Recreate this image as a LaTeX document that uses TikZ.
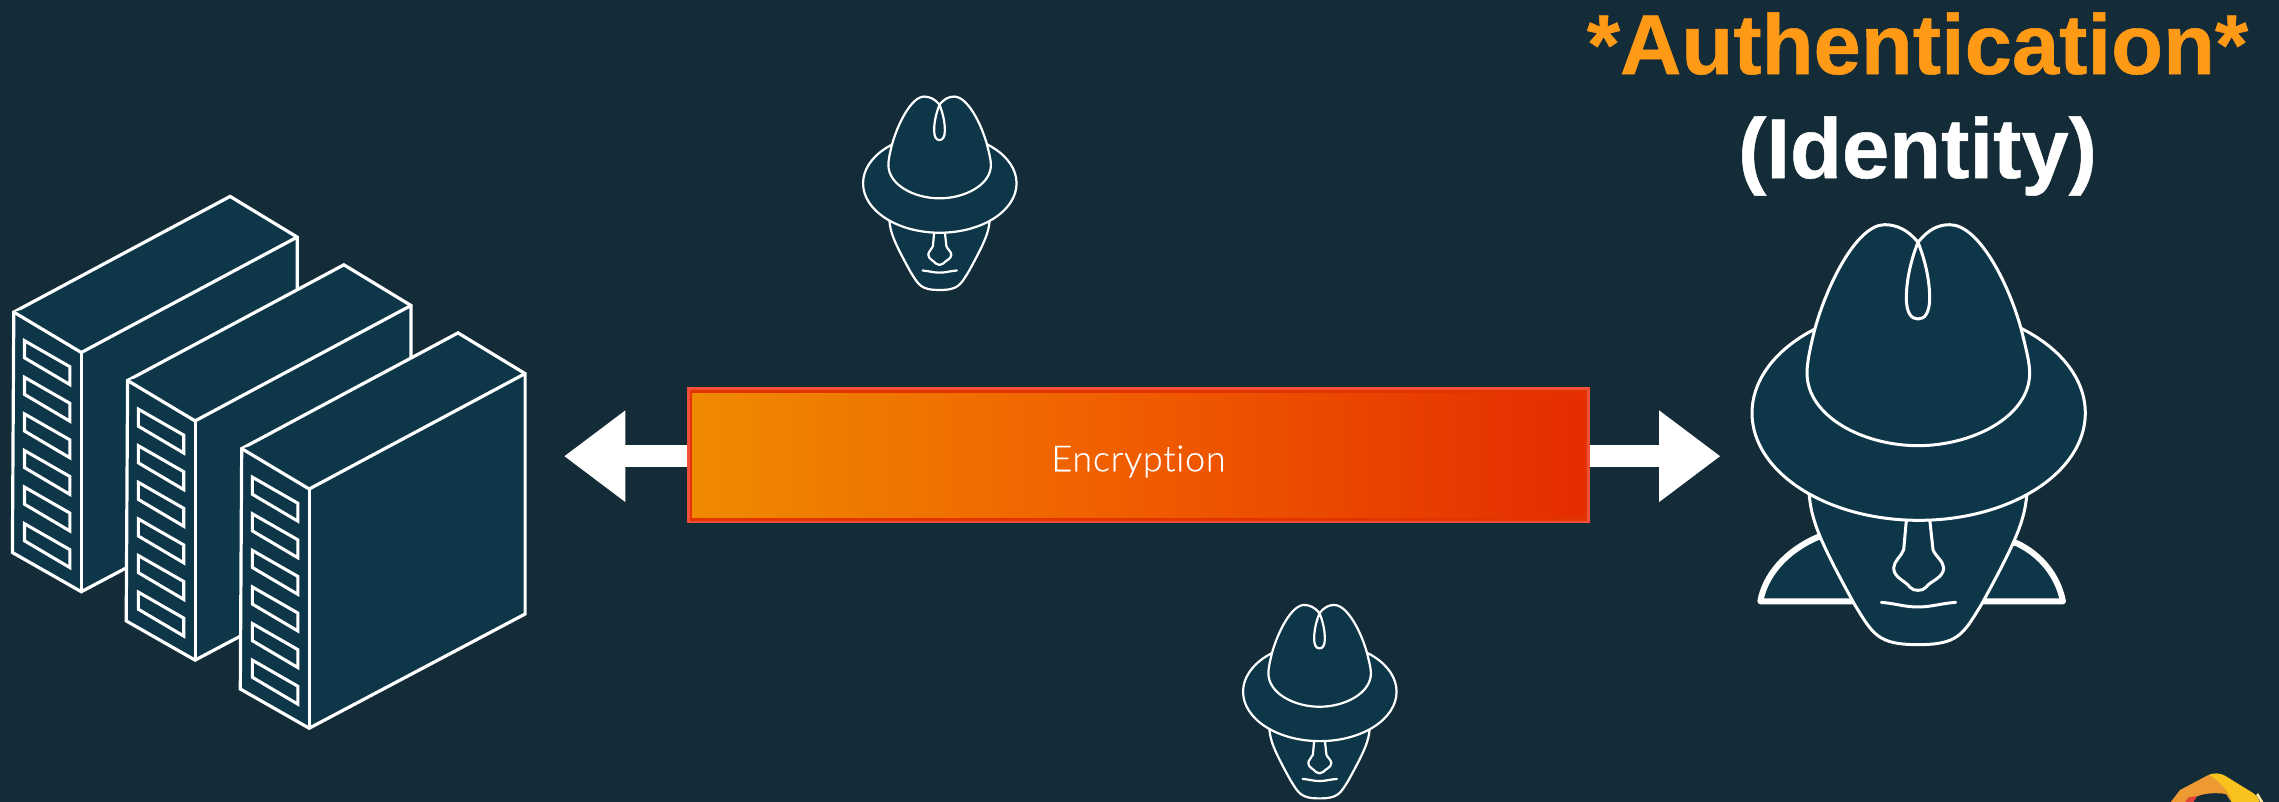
\documentclass[tikz,border=0pt]{standalone}
\usepackage{fontspec}
\setmainfont[BoldFeatures={FakeBold=0.6}]{Liberation Sans}
\newfontfamily\enctextfont[Ligatures=CommonOff,LetterSpace=2,FakeBold=0.35]{Lato Light}
\usetikzlibrary{arrows.meta}
\definecolor{bgdark}{HTML}{142B38}
\definecolor{figfill}{HTML}{0D3648}
\definecolor{titleorange}{HTML}{FF9A17}
\definecolor{encstart}{HTML}{EF8A00}
\definecolor{encmid}{HTML}{F05C00}
\definecolor{encend}{HTML}{E42C00}
\definecolor{encdark}{HTML}{E23400}
\definecolor{enclight}{HTML}{F3503A}
\definecolor{logoorange}{HTML}{EE9A33}
\definecolor{logoyellow}{HTML}{F9C21E}
\definecolor{logored}{HTML}{E0453A}
\definecolor{logocream}{HTML}{FBE3A0}
\tikzset{
  figshape/.style={fill=figfill,draw=white,line join=round,line cap=round},
  srv/.style={figshape,line width=3.2pt,line join=miter},
  slot/.style={draw=white,line width=3.1pt,line join=miter,fill=none},
  shaft/.style={draw=white,line width=22.3pt,-{Triangle[length=61.3pt,width=87.3pt,fill=white]}},
  titletext/.style={anchor=base,inner sep=0pt,font=\fontsize{85}{90}\selectfont\bfseries},
  shoulderpart/.pic={
    \path[figshape] (-300,372) .. controls (-400,415) and (-460,490) .. (-473,565)
      -- (435,565) .. controls (420,490) and (370,425) .. (295,390) -- cycle;
  },
  hatfig/.pic={
    \path[figshape] (-327,240) .. controls (-320,320) and (-300,375) .. (-190,575)
      .. controls (-135,665) and (-120,695) .. (0,695)
      .. controls (120,695) and (135,665) .. (190,575)
      .. controls (300,375) and (320,320) .. (327,240) -- cycle;
    \path[draw=white,line join=round,line cap=round] (-33,300) -- (-43,410)
      .. controls (-50,430) and (-73,445) .. (-73,465)
      .. controls (-73,495) and (-35,505) .. (-25,522)
      .. controls (-18,530) and (-10,532) .. (0,532)
      .. controls (10,532) and (18,530) .. (25,522)
      .. controls (35,505) and (77,495) .. (77,465)
      .. controls (77,445) and (52,430) .. (45,410) -- (33,300);
    \path[draw=white,line cap=round] (-110,568) .. controls (-65,572) and (-40,582) .. (0,582)
      .. controls (40,582) and (65,572) .. (113,568);
    \path[figshape] (2,0) ellipse [x radius=500,y radius=322];
    \path[figshape] (0,-512) .. controls (-30,-550) and (-65,-565) .. (-100,-565)
      .. controls (-185,-565) and (-275,-380) .. (-310,-250)
      .. controls (-325,-190) and (-333,-150) .. (-333,-120)
      .. controls (-333,10) and (-165,98) .. (0,98)
      .. controls (165,98) and (335,10) .. (335,-120)
      .. controls (335,-150) and (325,-190) .. (310,-250)
      .. controls (275,-380) and (185,-565) .. (95,-565)
      .. controls (60,-565) and (30,-550) .. (0,-512) -- cycle;
    \path[draw=white,line join=round] (0,-512) .. controls (-25,-450) and (-35,-390) .. (-35,-345)
      .. controls (-35,-300) and (-20,-282) .. (0,-282)
      .. controls (20,-282) and (35,-300) .. (35,-345)
      .. controls (35,-390) and (25,-450) .. (0,-512);
  },
  serverbox/.pic={
    \path[srv] (0,0) -- (216.3,-115.7) -- (283.4,-75) -- (283.4,165.4) -- (67.5,279.6) -- (-1.4,240.4) -- cycle;
    \path[srv] (0,0) -- (67.5,40.4) -- (283.4,-75);
    \path[srv,fill=none] (67.5,40.4) -- (67.5,279.6);
    \foreach \k in {0,...,5}{
      \path[slot] (10.7,{28.6+36.6*\k}) -- (56.1,{54.6+36.6*\k}) -- (56.1,{72.5+36.6*\k}) -- (10.7,{45.7+36.6*\k}) -- cycle;
    }
  }
}
\begin{document}
\begin{tikzpicture}[x=1pt,y=-1pt]
\useasboundingbox (0,0) rectangle (2279,801);
\fill[bgdark] (-6,-6) rectangle (2285,807);

% servers
\pic at (13.8,312.1) {serverbox};
\pic at (127.6,380.5) {serverbox};
\pic at (241.7,448.6) {serverbox};

% encryption bar and arrows
\node[minimum width=895pt,minimum height=128pt,inner sep=0pt,outer sep=0pt,
      left color=encstart,right color=encend,middle color=encmid,
      draw=encdark,line width=2.8pt,text=white,
      text height=32pt,text depth=0pt,
      font=\enctextfont\fontsize{36}{38}\selectfont]
      (enc) at (1138.5,455.3) {Encryption};
\coordinate (lefttip) at (564,456.2);
\coordinate (righttip) at (1720.5,456.2);
\coordinate (leftstart) at ([xshift=-4pt]enc.west |- lefttip);
\coordinate (rightstart) at ([xshift=4pt]enc.east |- righttip);
\draw[shaft] (leftstart) -- (lefttip);
\draw[shaft] (rightstart) -- (righttip);
\draw[enclight,line width=2.6pt] ([shift={(-2.7pt,2.7pt)}]enc.north west) rectangle ([shift={(2.7pt,-2.7pt)}]enc.south east);

% hats
\pic[scale=0.3333,line width=6pt] at (1918,413) {shoulderpart};
\pic[scale=0.3333,line width=3pt] at (1918,413) {hatfig};
\pic[scale=0.1535,line width=2.2pt] at (939.5,183.3) {hatfig};
\pic[scale=0.1535,line width=2.2pt] at (1319.5,691.7) {hatfig};

% titles
\node[titletext,text=titleorange] (authtitle) at (1917.5,74) {*Authentication*};
\node[titletext,text=white] (idtitle) at (1917.5,178) {(Identity)};

% logo corner
\fill[color=logoorange] (2170,803) -- (2180,790) -- (2208.3,775)
  .. controls (2220,781) and (2229,792) .. (2232,803) -- (2226,794)
  .. controls (2212,792) and (2198,793) .. (2185,803) -- cycle;
\fill[color=logoyellow] (2208.3,775) .. controls (2214,772.5) and (2220,773) .. (2225,775.7)
  -- (2253,793) .. controls (2256,795) and (2258,798) .. (2260,803) -- (2232,803)
  .. controls (2229,792) and (2220,781) .. (2208.3,775) -- cycle;
\fill[color=logored] (2185,803) -- (2188,797.5) -- (2197,796) -- (2193,803) -- cycle;
\fill[color=logocream] (2258,793) -- (2264,803) -- (2261,803) -- (2256,795) -- cycle;
\end{tikzpicture}
\end{document}
